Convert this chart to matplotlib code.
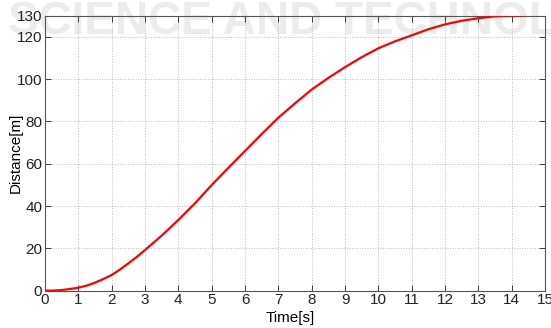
import matplotlib.pyplot as plt

# time [s] and travelled distance [m]
time_s = [0, 0.25, 0.5, 0.75, 1, 1.25, 1.5, 1.75, 2, 2.25, 2.5, 2.75, 3, 3.5,
          4, 4.5, 5, 5.5, 6, 6.5, 7, 7.5, 8, 8.5, 9, 9.5, 10, 10.5, 11, 11.5,
          12, 12.5, 13, 13.5, 14, 14.3]
distance_m = [0, 0.05, 0.3, 0.8, 1.4, 2.4, 3.8, 5.5, 7.4, 10.0, 12.9, 15.9,
              19.2, 26.0, 33.4, 41.3, 49.9, 58.0, 66.0, 74.0, 81.7, 88.5,
              95.0, 100.5, 105.6, 110.3, 114.5, 117.8, 120.6, 123.5, 125.8,
              127.5, 128.7, 129.6, 130, 130]
x_ticks = list(range(0, 16))
y_ticks = [0, 20, 40, 60, 80, 100, 120, 130]

plt.rcParams['font.family'] = ['Liberation Sans', 'DejaVu Sans']

fig = plt.figure(figsize=(5.51, 3.28), dpi=100)
ax = fig.add_axes([45/551, 37.3/328, 500/551, 275.2/328])
ax.set_zorder(2)
ax.patch.set_alpha(0)

# faint publisher watermark behind the plot
bg = fig.add_axes([0, 0, 1, 1], zorder=0)
bg.axis('off')
bg.text(0.015, 0.932, 'SCIENCE AND TECHNOLOGY', fontsize=33, color='#ececec',
        ha='left', va='center', fontweight='bold')

ax.plot(time_s, distance_m, color='red', linewidth=1.6, zorder=3,
        solid_joinstyle='round')

ax.set_xlim(0, 15)
ax.set_ylim(0, 130)
ax.set_xticks(x_ticks)
ax.set_yticks(y_ticks)
ax.grid(True, linestyle=':', color='#bbbbbb', linewidth=0.7)
ax.tick_params(direction='in', top=True, right=True, labelsize=11, length=4,
               width=0.6, pad=2, colors='#222222')
for s in ax.spines.values():
    s.set_linewidth(0.8)
    s.set_color('#555555')

ax.set_xlabel('Time[s]', fontsize=11)
ax.set_ylabel('Distance[m]', fontsize=11)
ax.xaxis.set_label_coords((290 - 45) / 500, -(311 - 291) / 275.2)
ax.yaxis.set_label_coords((23 - 45) / 500, (291 - 153) / 275.2)

fig.savefig('out.png', dpi=100)
